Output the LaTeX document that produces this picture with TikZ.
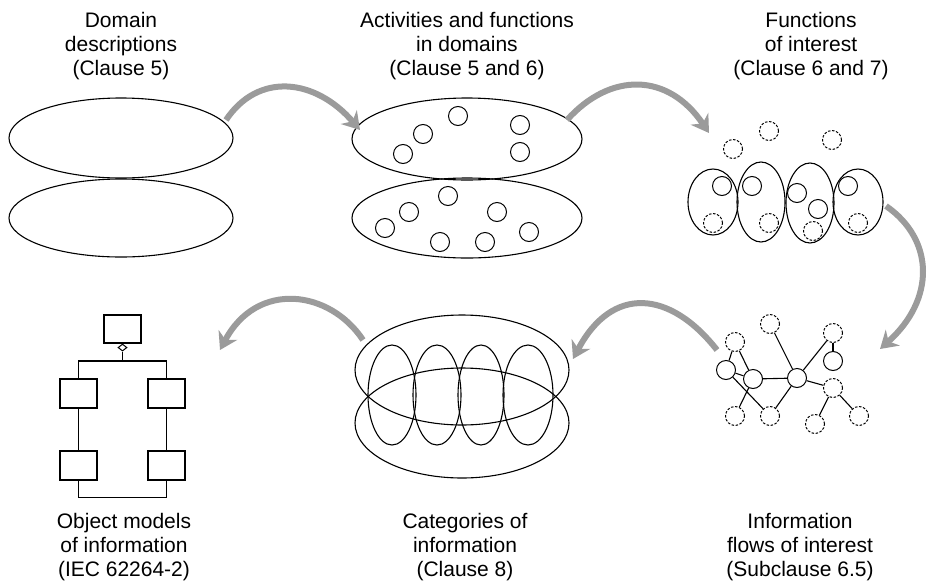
\documentclass[tikz,border=0pt]{standalone}
\usepackage{fontspec}
\setmainfont{Liberation Sans}
\usetikzlibrary{shapes.geometric,arrows.meta}
\definecolor{arrowgray}{RGB}{155,155,155}
\begin{document}
\begin{tikzpicture}[x=1pt,y=-1pt,
  lbl/.style={align=center,font=\fontsize{21}{24}\selectfont,inner sep=0},
  ell/.style={draw,ellipse,line width=1.1pt,inner sep=0},
  sc/.style={draw,circle,line width=1pt,minimum size=19pt,inner sep=0},
  dc/.style={sc,dash pattern=on 2.5pt off 1.6pt},
  obox/.style={draw,line width=1.1pt,minimum width=37pt,minimum height=29pt,inner sep=0},
  link/.style={line width=1.1pt},
  garrow/.style={draw=arrowgray,line width=6pt,-{Stealth[length=17pt,width=21pt]}}
]
\useasboundingbox (0,0) rectangle (928,581);

% ---- labels
\node[lbl] (t1) at (121,46) {Domain\\descriptions\\(Clause 5)};
\node[lbl] (t2) at (467,46) {Activities and functions\\in domains\\(Clause 5 and 6)};
\node[lbl] (t3) at (811,46) {Functions\\of interest\\(Clause 6 and 7)};
\node[lbl] (t4) at (124,547) {Object models\\of information\\(IEC 62264-2)};
\node[lbl] (t5) at (465,547) {Categories of\\information\\(Clause 8)};
\node[lbl] (t6) at (800,547) {Information\\flows of interest\\(Subclause 6.5)};

% ---- domain descriptions
\node[ell,minimum width=224pt,minimum height=80pt] (d1) at (121,138) {};
\node[ell,minimum width=224pt,minimum height=78pt] (d2) at (121,218) {};

% ---- activities and functions
\node[ell,minimum width=230pt,minimum height=82pt] (a1) at (467,139) {};
\node[ell,minimum width=230pt,minimum height=80pt] (a2) at (467,218) {};
\node[sc] (ac1) at (458,116) {};
\node[sc] (ac2) at (423,134) {};
\node[sc] (ac3) at (403,154) {};
\node[sc] (ac4) at (520,125) {};
\node[sc] (ac5) at (520,152) {};
\node[sc] (ac6) at (448,196) {};
\node[sc] (ac7) at (409,212) {};
\node[sc] (ac8) at (385,228) {};
\node[sc] (ac9) at (497,212) {};
\node[sc] (ac10) at (440,242) {};
\node[sc] (ac11) at (485,242) {};
\node[sc] (ac12) at (529,232) {};

% ---- functions of interest
\node[ell,minimum width=50pt,minimum height=66pt] (fe1) at (713,202) {};
\node[ell,minimum width=48pt,minimum height=80pt] (fe2) at (761,202) {};
\node[ell,minimum width=48pt,minimum height=80pt] (fe3) at (810,203) {};
\node[ell,minimum width=50pt,minimum height=66pt] (fe4) at (858,202) {};
\node[sc] (fc1) at (722,186) {};
\node[sc] (fc2) at (752,186) {};
\node[sc] (fc3) at (797,193) {};
\node[sc] (fc4) at (818,209) {};
\node[sc] (fc5) at (848,186) {};
\node[dc] (fd1) at (713,223) {};
\node[dc] (fd2) at (769,223) {};
\node[dc] (fd3) at (813,231) {};
\node[dc] (fd4) at (858,223) {};
\node[dc] (fd5) at (733,149) {};
\node[dc] (fd6) at (769,131) {};
\node[dc] (fd7) at (832,140) {};

% ---- information flows
\node[dc] (nA) at (770,324) {};
\node[dc] (nB) at (833,333) {};
\node[sc] (nC) at (833,361) {};
\node[dc] (nD) at (735,342) {};
\node[sc] (nE) at (726,370) {};
\node[sc] (nF) at (753,379) {};
\node[sc] (nG) at (797,378) {};
\node[dc] (nH) at (833,388) {};
\node[dc] (nI) at (735,416) {};
\node[dc] (nJ) at (770,416) {};
\node[dc] (nK) at (815,424) {};
\node[dc] (nL) at (859,416) {};
\draw[link] (nD) -- (nE);
\draw[link] (nD) -- (nF);
\draw[link] (nE) -- (nF);
\draw[link] (nE) -- (nJ);
\draw[link] (nF) -- (nI);
\draw[link] (nF) -- (nG);
\draw[link] (nG) -- (nA);
\draw[link] (nG) -- (nB);
\draw[link] (nG) -- (nJ);
\draw[link] (nG) -- (nH);
\draw[link] (nB) -- (nC);
\draw[link] (nH) -- (nK);
\draw[link] (nH) -- (nL);

% ---- categories of information
\node[ell,minimum width=214pt,minimum height=110pt] (ct1) at (462,370) {};
\node[ell,minimum width=214pt,minimum height=110pt] (ct2) at (462,423) {};
\node[ell,minimum width=48pt,minimum height=100pt] (cv1) at (392,395) {};
\node[ell,minimum width=48pt,minimum height=100pt] (cv2) at (437,395) {};
\node[ell,minimum width=46pt,minimum height=100pt] (cv3) at (481,395) {};
\node[ell,minimum width=50pt,minimum height=100pt] (cv4) at (528,395) {};

% ---- object models
\node[obox,minimum height=28pt] (ob0) at (122.5,329) {};
\node[draw,diamond,line width=1pt,minimum width=9pt,minimum height=7pt,inner sep=0,anchor=north] (dia) at (ob0.south) {};
\node[obox] (ob1) at (78.5,393.5) {};
\node[obox] (ob2) at (78.5,465.5) {};
\node[obox] (ob3) at (166.5,393.5) {};
\node[obox] (ob4) at (166.5,465.5) {};
\coordinate (ojoin) at (122.5,361);
\draw[link] (dia.south) -- (ojoin);
\draw[link] (ob1.north) |- (ojoin) -| (ob3.north);
\draw[link] (ob1) -- (ob2);
\draw[link] (ob3) -- (ob4);
\draw[link] (ob2.south) -- ++(0,17) -| (ob4.south);

% ---- gray arrows
\coordinate (g1s) at (226,120);
\coordinate (g1e) at (360,130);
\coordinate (g2s) at (567,120);
\coordinate (g2e) at (709,133);
\coordinate (g3s) at (886,206);
\coordinate (g3e) at (880,349);
\coordinate (g4s) at (717,350);
\coordinate (g4e) at (573,359);
\coordinate (g5s) at (363,340);
\coordinate (g5e) at (220,350);
\draw[garrow] (g1s) .. controls (258,72) and (315,78) .. (g1e);
\draw[garrow] (g2s) .. controls (610,72) and (668,72) .. (g2e);
\draw[garrow] (g3s) .. controls (935,240) and (935,300) .. (g3e);
\draw[garrow] (g4s) .. controls (670,290) and (612,285) .. (g4e);
\draw[garrow] (g5s) .. controls (330,290) and (257,280) .. (g5e);
\end{tikzpicture}
\end{document}
